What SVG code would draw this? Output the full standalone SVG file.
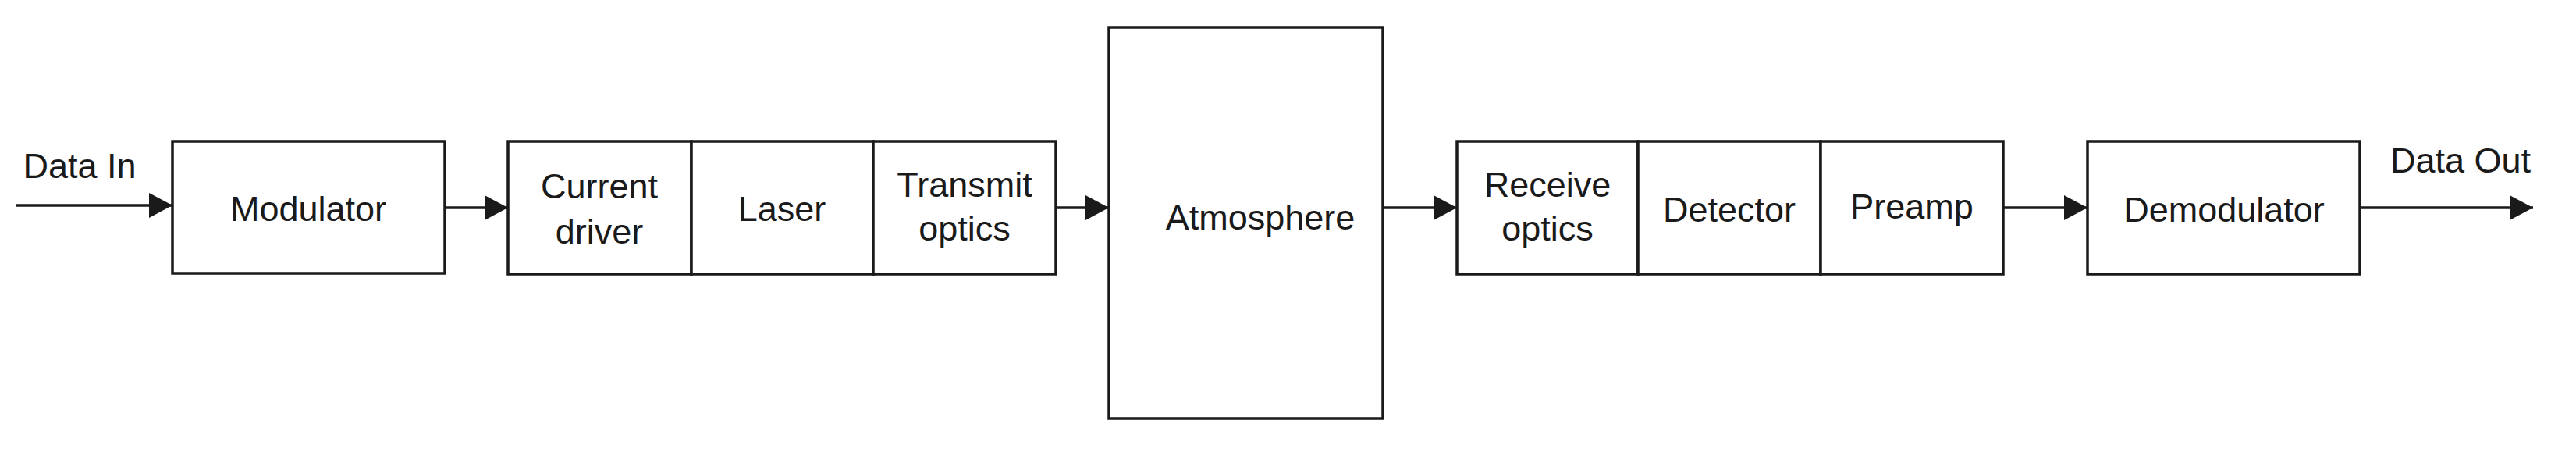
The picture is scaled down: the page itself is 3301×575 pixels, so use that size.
<svg xmlns="http://www.w3.org/2000/svg" width="3301" height="575" viewBox="0 0 3301 575">
<style>
rect{fill:#fff;stroke:#1a1a1a;stroke-width:3.5}
text{font-family:"Liberation Sans",Arial,sans-serif;font-size:45px;fill:#1a1a1a;text-anchor:middle}
.c line{stroke:#1a1a1a;stroke-width:3.5}
</style>
<defs><marker id="a" markerUnits="userSpaceOnUse" markerWidth="32" markerHeight="32" refX="30" refY="16" orient="auto"><path d="M0,0L30,16L0,32Z" fill="#1a1a1a"/></marker></defs>
<rect width="3301" height="575" style="fill:#fff;stroke:none"/>
<g id="modulator"><rect x="221" y="181" width="349" height="169"/><text x="395" y="283">Modulator</text></g>
<g id="current-driver"><rect x="651" y="181" width="235" height="170"/><text x="768" y="254">Current</text><text x="768" y="312">driver</text></g>
<g id="laser"><rect x="886" y="181" width="233" height="170"/><text x="1002" y="283">Laser</text></g>
<g id="transmit-optics"><rect x="1119" y="181" width="234" height="170"/><text x="1236" y="252">Transmit</text><text x="1236" y="308">optics</text></g>
<g id="atmosphere"><rect x="1421" y="35" width="351" height="501"/><text x="1615" y="294">Atmosphere</text></g>
<g id="receive-optics"><rect x="1867" y="181" width="232" height="170"/><text x="1983" y="252">Receive</text><text x="1983" y="308">optics</text></g>
<g id="detector"><rect x="2099" y="181" width="234" height="170"/><text x="2216" y="284">Detector</text></g>
<g id="preamp"><rect x="2333" y="181" width="234" height="170"/><text x="2450" y="280">Preamp</text></g>
<g id="demodulator"><rect x="2675" y="181" width="349" height="170"/><text x="2850" y="284">Demodulator</text></g>
<text x="102" y="228">Data In</text>
<text x="3153" y="221">Data Out</text>
<g class="c">
<line x1="21" y1="263" x2="221" y2="263" marker-end="url(#a)"/>
<line x1="570" y1="266" x2="651" y2="266" marker-end="url(#a)"/>
<line x1="1353" y1="266" x2="1421" y2="266" marker-end="url(#a)"/>
<line x1="1772" y1="266" x2="1867" y2="266" marker-end="url(#a)"/>
<line x1="2567" y1="266" x2="2675" y2="266" marker-end="url(#a)"/>
<line x1="3024" y1="266" x2="3246" y2="266" marker-end="url(#a)"/>
</g>
</svg>
